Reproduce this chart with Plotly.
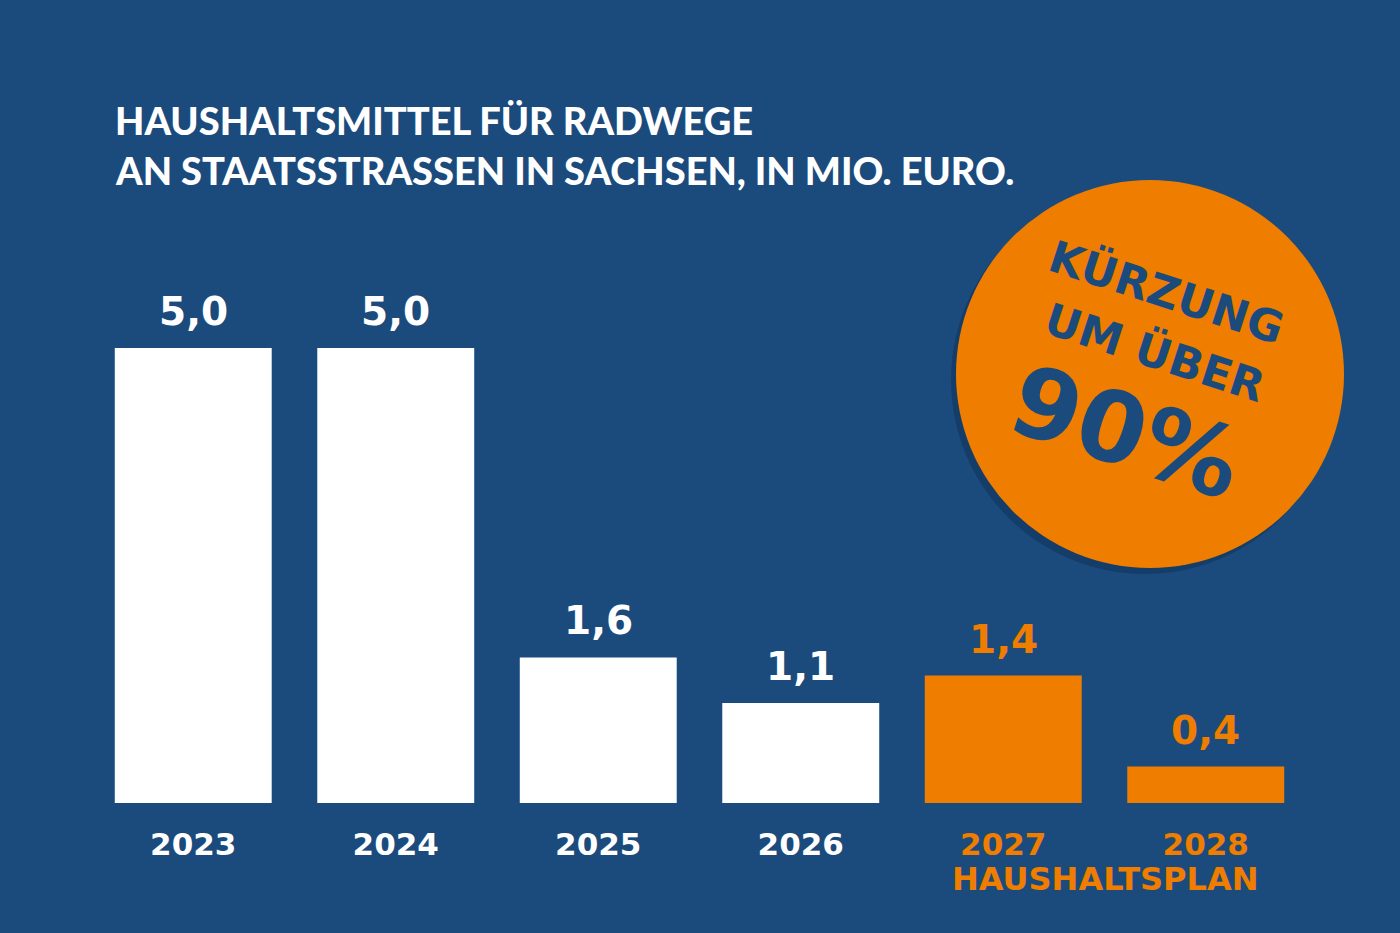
import plotly.graph_objects as go

# Daten: Haushaltsmittel für Radwege an Staatsstraßen in Sachsen (Mio. Euro)
jahre = ["2023", "2024", "2025", "2026", "2027", "2028"]
werte = [5.0, 5.0, 1.6, 1.1, 1.4, 0.4]
plan = [False, False, False, False, True, True]  # 2027/2028 = Haushaltsplan

titel_zeilen = ["HAUSHALTSMITTEL FÜR RADWEGE", "AN STAATSSTRASSEN IN SACHSEN, IN MIO. EURO."]
badge_zeilen = ["KÜRZUNG", "UM ÜBER", "90%"]
plan_label = "HAUSHALTSPLAN"

BLAU = "#1b4b7d"
ORANGE = "#ef7d00"
WEISS = "#ffffff"

W, H = 1400, 933
L, R, T, B = 92, 93, 257, 130


def px_x(x):
    return (x - L) / (W - L - R)


def px_y(y):
    return (H - B - y) / (H - T - B)


farben = [ORANGE if p else WEISS for p in plan]

fig = go.Figure()
fig.add_trace(go.Bar(
    x=jahre, y=werte,
    marker=dict(color=farben, line=dict(width=0)),
    hoverinfo="x+y",
))

# Werte über den Balken (x als Kategorie-Index, sonst wird "2023" als Index gelesen)
for i, (v, c) in enumerate(zip(werte, farben)):
    fig.add_annotation(
        x=i, y=v, text=f"{v:.1f}".replace(".", ","),
        showarrow=False, yanchor="bottom", yshift=12,
        font=dict(family="DejaVu Sans", size=39, color=c, weight="bold"),
    )

# Titel
for i, zeile in enumerate(titel_zeilen):
    fig.add_annotation(
        xref="paper", yref="paper", x=px_x(113), y=px_y(120 + i * 50),
        xanchor="left", yanchor="middle", text=zeile, showarrow=False,
        font=dict(family="Lato", size=38, color=WEISS, weight=900),
    )

# Haushaltsplan-Label unter 2027/2028
fig.add_annotation(
    xref="paper", yref="paper", x=px_x(1105), y=px_y(879),
    xanchor="center", yanchor="middle", text=plan_label, showarrow=False,
    font=dict(family="DejaVu Sans", size=32, color=ORANGE, weight="bold"),
)

# Badge (Kreis mit Schatten)
cx, cy, rad = 1150, 374, 194
fig.add_shape(
    type="circle", xref="paper", yref="paper",
    xsizemode="pixel", ysizemode="pixel",
    xanchor=px_x(cx - 5), yanchor=px_y(cy + 6),
    x0=-rad, x1=rad, y0=-rad, y1=rad,
    fillcolor="rgba(10,30,60,0.3)", line=dict(width=0), layer="above",
)
fig.add_shape(
    type="circle", xref="paper", yref="paper",
    xsizemode="pixel", ysizemode="pixel",
    xanchor=px_x(cx), yanchor=px_y(cy),
    x0=-rad, x1=rad, y0=-rad, y1=rad,
    fillcolor=ORANGE, line=dict(width=0), layer="above",
)

badge_pos = [(1167, 292, 44), (1155, 352, 44), (1126, 432, 98)]
for zeile, (bx, by, gr) in zip(badge_zeilen, badge_pos):
    fig.add_annotation(
        xref="paper", yref="paper", x=px_x(bx), y=px_y(by),
        xanchor="center", yanchor="middle", text=zeile, showarrow=False,
        textangle=18,
        font=dict(family="DejaVu Sans", size=gr, color=BLAU, weight="bold"),
    )

ticktext = [f"<span style='color:{ORANGE}'>{j}</span>" if p else j for j, p in zip(jahre, plan)]

fig.update_layout(
    width=W, height=H,
    margin=dict(l=L, r=R, t=T, b=B),
    paper_bgcolor=BLAU, plot_bgcolor=BLAU,
    bargap=0.225,
    showlegend=False,
    xaxis=dict(
        type="category", tickmode="array", tickvals=jahre, ticktext=ticktext,
        range=[-0.5, len(jahre) - 0.5],
        showgrid=False, zeroline=False, showline=False, ticks="",
        tickfont=dict(family="DejaVu Sans", size=31, color=WEISS, weight="bold"),
        ticklabelstandoff=20,
    ),
    yaxis=dict(
        range=[0, 6], showgrid=False, zeroline=False, showline=False,
        showticklabels=False, fixedrange=True,
    ),
)

fig.write_html("out.html", config={"displayModeBar": False},
               post_script="document.body.style.margin='0';")
